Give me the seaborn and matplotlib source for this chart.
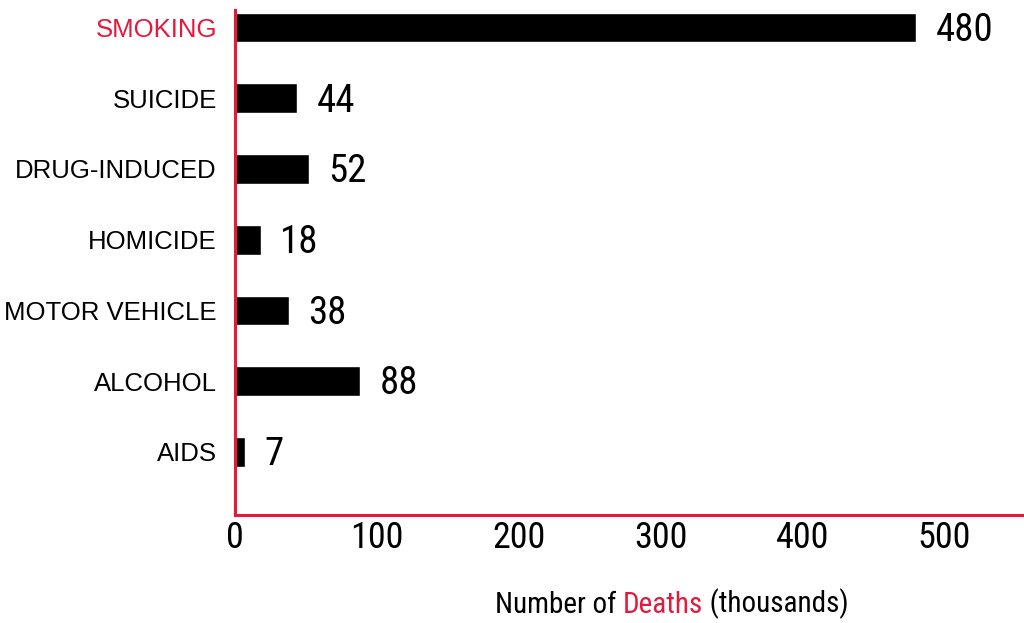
import matplotlib
matplotlib.use("Agg")
import matplotlib.pyplot as plt
import matplotlib.font_manager as fm
import seaborn as sns
import pandas as pd

# data
causes = ["SMOKING", "SUICIDE", "DRUG-INDUCED", "HOMICIDE", "MOTOR VEHICLE", "ALCOHOL", "AIDS"]
deaths = [480, 44, 52, 18, 38, 88, 7]
x_ticks = [0, 100, 200, 300, 400, 500]

RED = "#e4193b"

# pick a narrow font for the numbers if one exists
names = {f.name for f in fm.fontManager.ttflist}
narrow = "DejaVu Sans"
for cand in ["Liberation Sans Narrow", "Roboto Condensed", "Open Sans Condensed", "DejaVu Sans Condensed"]:
    if cand in names:
        narrow = cand
        break

sns.set_theme(style="white")
plt.rcParams["font.family"] = ["Liberation Sans", "DejaVu Sans"]

df = pd.DataFrame({"cause": causes, "deaths": deaths})

fig = plt.figure(figsize=(10.24, 6.23), dpi=100)
ax = fig.add_axes([0.2295, 0.174, 0.7705, 0.81])

sns.barplot(data=df, x="deaths", y="cause", color="black", width=0.42,
            saturation=1, ax=ax)

ax.set_xlim(0, 556)
ax.set_ylim(6.89, -0.25)
ax.set_xticks(x_ticks)
ax.set_xticklabels([str(t) for t in x_ticks], fontfamily=narrow, fontsize=26,
                   fontstretch="condensed")
ax.tick_params(axis="x", length=0, pad=4, labelcolor="black")
ax.tick_params(axis="y", length=0, pad=13, labelsize=18.5)
for lbl in ax.get_yticklabels():
    if lbl.get_text() == "SMOKING":
        lbl.set_color(RED)
    else:
        lbl.set_color("black")

for s in ["top", "right"]:
    ax.spines[s].set_visible(False)
for s in ["left", "bottom"]:
    ax.spines[s].set_color(RED)
    ax.spines[s].set_linewidth(2.2)

ax.set_xlabel("")
ax.set_ylabel("")

# value labels
for i, v in enumerate(deaths):
    ax.annotate(str(v), xy=(v, i), xytext=(14, -2), textcoords="offset points",
                va="center", ha="left", fontsize=28, fontfamily=narrow,
                fontstretch="condensed", color="black")

# axis title with red "Deaths"
t1 = fig.text(0.483, 0.006, "Number of ", fontsize=21, fontfamily=narrow,
              fontstretch="condensed", color="black", va="bottom", ha="left")
t2 = ax.annotate("Deaths", xy=(1, 0), xycoords=t1, va="bottom", ha="left",
                 fontsize=21, fontfamily=narrow, fontstretch="condensed", color=RED)
t3 = ax.annotate(" (thousands)", xy=(1, 0), xycoords=t2, va="bottom", ha="left",
                 fontsize=21, fontfamily=narrow, fontstretch="condensed", color="black")

fig.savefig("out.png", dpi=100)
